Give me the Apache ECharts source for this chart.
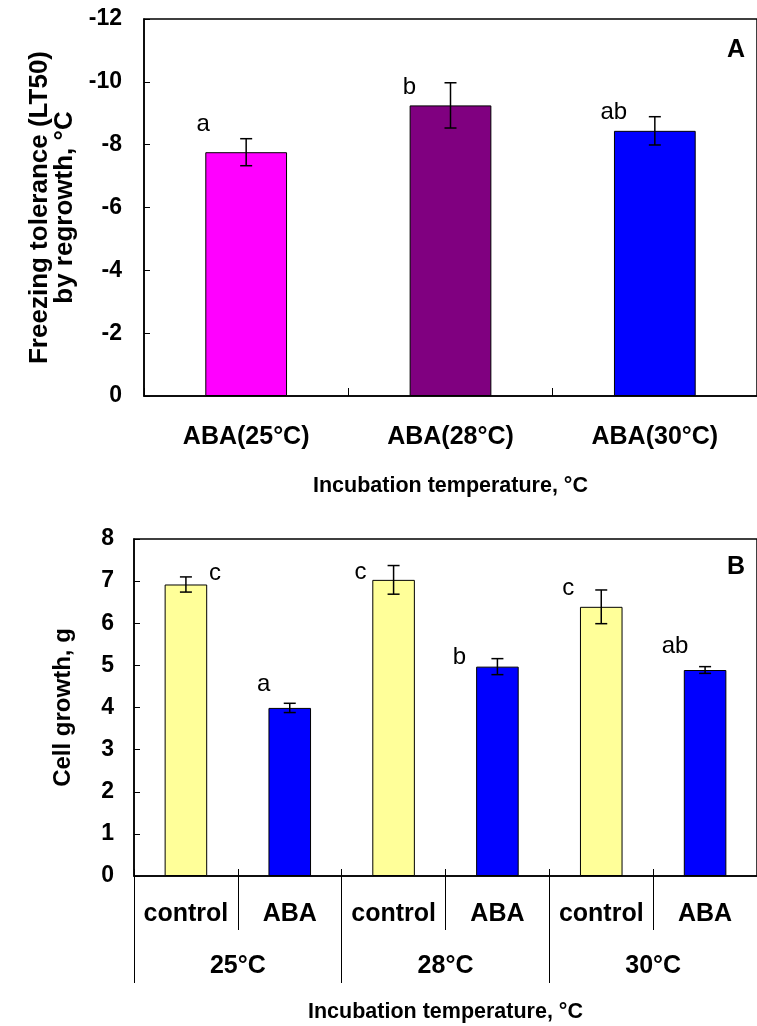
<!DOCTYPE html>
<html><head><meta charset="utf-8">
<script src="https://cdn.jsdelivr.net/npm/echarts@6/dist/echarts.min.js"></script>
<style>html,body{margin:0;padding:0;background:#fff;overflow:hidden}#c{width:757px;height:1026px}</style>
</head><body><div id="c"></div>
<script>
// ---- Panel A data ----
const catsA = ['ABA(25°C)', 'ABA(28°C)', 'ABA(30°C)'];
const valsA = [-7.76, -9.25, -8.44];
const errA = [0.43, 0.72, 0.45];
const lettersA = ['a', 'b', 'ab'];
const yTicksA = [-12, 0, 2];   // min, max, interval
const yNameA = ['Freezing tolerance (LT50)', 'by regrowth, °C'];

// ---- Panel B data ----
const catsB = ['control', 'ABA', 'control', 'ABA', 'control', 'ABA'];
const groupsB = ['25°C', '28°C', '30°C'];
const valsB = [6.92, 3.99, 7.03, 4.97, 6.39, 4.89];
const errB = [0.18, 0.11, 0.34, 0.19, 0.40, 0.08];
const lettersB = ['c', 'a', 'c', 'b', 'c', 'ab'];
const yTicksB = [0, 8, 1];

// ---- styles ----
const colorsA = ['#FF00FF', '#800080', '#0000FF'];
const colorsB = ['#FFFF99', '#0000FF', '#FFFF99', '#0000FF', '#FFFF99', '#0000FF'];
const letterOffA = [[-43, -14], [-41, 5], [-41, -4]];
const letterOffB = [[29, -4], [-26, -19], [-33, 7], [-38, -1], [-33, -2], [-30, -20]];
const FF = "'Liberation Sans', Arial, Helvetica, sans-serif";
const BLACK = '#000';

function errRender(offs, letters) {
  return function (params, api) {
    const i = api.value(0);
    const p1 = api.coord([i, api.value(1)]);
    const p2 = api.coord([i, api.value(2)]);
    const topY = Math.min(p1[1], p2[1]);
    const hw = 6;
    const st = { stroke: BLACK, lineWidth: 1.5 };
    const off = offs[params.dataIndex];
    return {
      type: 'group',
      children: [
        { type: 'line', shape: { x1: p1[0], y1: p1[1], x2: p2[0], y2: p2[1] }, style: st },
        { type: 'line', shape: { x1: p1[0] - hw, y1: p1[1], x2: p1[0] + hw, y2: p1[1] }, style: st },
        { type: 'line', shape: { x1: p2[0] - hw, y1: p2[1], x2: p2[0] + hw, y2: p2[1] }, style: st },
        { type: 'text', x: p1[0] + off[0], y: topY + off[1],
          style: { text: letters[params.dataIndex], fill: BLACK, font: "24px " + FF, align: 'center', verticalAlign: 'middle' } }
      ]
    };
  };
}

const tickLabel = { color: BLACK, fontWeight: 'bold', fontSize: 23, fontFamily: FF };
const catLabel = { color: BLACK, fontWeight: 'bold', fontSize: 25, fontFamily: FF, interval: 0 };
const nameStyle = { color: BLACK, fontWeight: 'bold', fontSize: 21.5, fontFamily: FF };
const yNameStyle = { color: BLACK, fontWeight: 'bold', fontSize: 26, fontFamily: FF };
const lineBlack = { lineStyle: { color: BLACK, width: 1.5 } };

const option = {
  animation: false,
  backgroundColor: '#fff',
  grid: [
    { left: 144, top: 19, width: 621, height: 377, show: true, borderColor: BLACK, borderWidth: 1.5 },
    { left: 134, top: 539, width: 634, height: 337, show: true, borderColor: BLACK, borderWidth: 1.5 }
  ],
  xAxis: [
    { gridIndex: 0, type: 'category', data: catsA, position: 'bottom',
      axisLine: lineBlack,
      axisTick: { show: true, inside: true, length: 8, interval: 0, lineStyle: { color: BLACK, width: 1 } },
      axisLabel: Object.assign({ margin: 29 }, catLabel),
      name: 'Incubation temperature, °C', nameLocation: 'middle', nameGap: 79, nameMoveOverlap: false, nameTextStyle: nameStyle },
    { gridIndex: 1, type: 'category', data: catsB, position: 'bottom',
      axisLine: lineBlack,
      axisTick: { show: true, inside: false, length: 54, interval: 0, lineStyle: { color: BLACK, width: 1 } },
      axisLabel: Object.assign({ margin: 26 }, catLabel) },
    { gridIndex: 1, type: 'category', data: catsB, position: 'bottom',
      axisLine: { show: false },
      axisTick: { show: true, inside: true, length: 7, interval: 0, lineStyle: { color: BLACK, width: 1 } },
      axisLabel: { show: false } },
    { gridIndex: 1, type: 'category', data: groupsB, position: 'bottom',
      axisLine: { show: false },
      axisTick: { show: true, inside: false, length: 107, interval: 0, lineStyle: { color: BLACK, width: 1 } },
      axisLabel: Object.assign({ margin: 78 }, catLabel),
      name: 'Incubation temperature, °C', nameLocation: 'middle', nameGap: 125, nameMoveOverlap: false, nameTextStyle: nameStyle }
  ],
  yAxis: [
    { gridIndex: 0, type: 'value', min: yTicksA[0], max: yTicksA[1], interval: yTicksA[2], inverse: true,
      axisLine: Object.assign({ show: true }, lineBlack),
      axisTick: { show: true, inside: true, length: 6, lineStyle: { color: BLACK, width: 1 } },
      splitLine: { show: false },
      axisLabel: Object.assign({ margin: 22 }, tickLabel),
      name: yNameA[0], nameLocation: 'middle', nameRotate: 90, nameGap: 91, nameMoveOverlap: false, nameTextStyle: yNameStyle },
    { gridIndex: 0, type: 'value', min: yTicksA[0], max: yTicksA[1], interval: yTicksA[2], inverse: true,
      position: 'left',
      axisLine: { show: false }, axisTick: { show: false }, axisLabel: { show: false }, splitLine: { show: false },
      name: yNameA[1], nameLocation: 'middle', nameRotate: 90, nameGap: 66, nameMoveOverlap: false, nameTextStyle: yNameStyle },
    { gridIndex: 1, type: 'value', min: yTicksB[0], max: yTicksB[1], interval: yTicksB[2],
      axisLine: Object.assign({ show: true }, lineBlack),
      axisTick: { show: true, inside: true, length: 6, lineStyle: { color: BLACK, width: 1 } },
      splitLine: { show: false },
      axisLabel: Object.assign({ margin: 20 }, tickLabel),
      name: 'Cell growth, g', nameLocation: 'middle', nameRotate: 90, nameGap: 59, nameMoveOverlap: false,
      nameTextStyle: { color: BLACK, fontWeight: 'bold', fontSize: 24, fontFamily: FF } }
  ],
  series: [
    { type: 'bar', xAxisIndex: 0, yAxisIndex: 0, barWidth: '40%',
      data: valsA.map((v, i) => ({ value: v, itemStyle: { color: colorsA[i], borderColor: BLACK, borderWidth: 1 } })) },
    { type: 'custom', xAxisIndex: 0, yAxisIndex: 0, z: 5,
      renderItem: errRender(letterOffA, lettersA),
      data: valsA.map((v, i) => [i, v - errA[i], v + errA[i]]) },
    { type: 'bar', xAxisIndex: 1, yAxisIndex: 2, barWidth: '41%',
      data: valsB.map((v, i) => ({ value: v, itemStyle: { color: colorsB[i], borderColor: BLACK, borderWidth: 1 } })) },
    { type: 'custom', xAxisIndex: 1, yAxisIndex: 2, z: 5,
      renderItem: errRender(letterOffB, lettersB),
      data: valsB.map((v, i) => [i, v + errB[i], v - errB[i]]) }
  ],
  graphic: [
    { type: 'text', left: 727, top: 38, style: { text: 'A', fill: BLACK, font: "bold 25px " + FF } },
    { type: 'text', left: 727, top: 555, style: { text: 'B', fill: BLACK, font: "bold 25px " + FF } }
  ]
};

const chart = echarts.init(document.getElementById('c'), null, { renderer: 'canvas' });
chart.setOption(option);
</script>
</body></html>
